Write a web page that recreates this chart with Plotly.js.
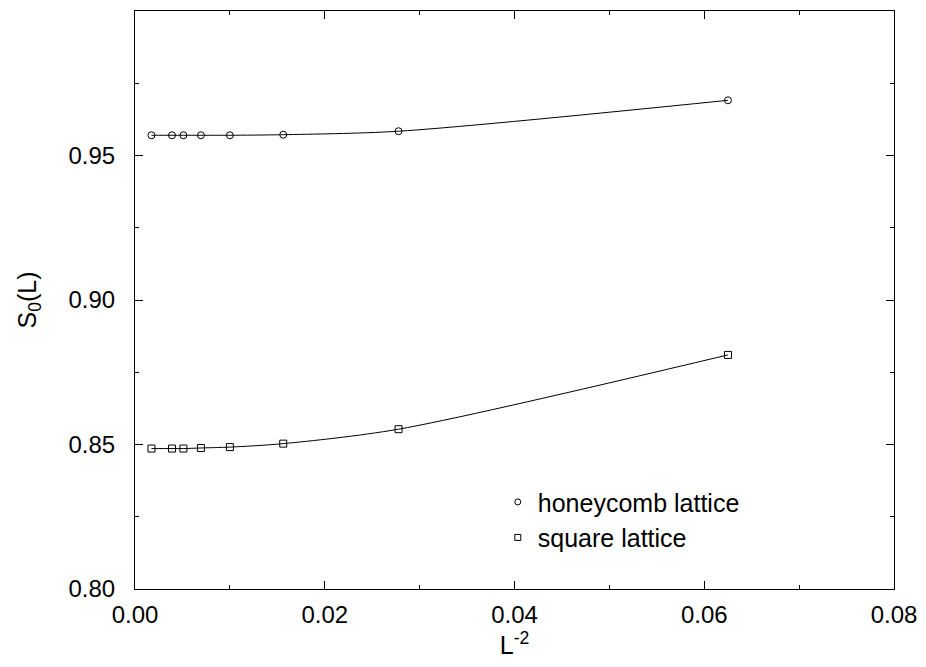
<!DOCTYPE html>
<html>
<head>
<meta charset="utf-8">
<script src="https://cdn.plot.ly/plotly-3.0.1.min.js"></script>
<style>html,body{margin:0;padding:0;background:#fff;}#chart{width:926px;height:667px;}</style>
</head>
<body>
<div id="chart"></div>
<script>
// L^-2 values for L = 24, 16, 14, 12, 10, 8, 6, 4
const xValues = [1/576, 1/256, 1/196, 1/144, 1/100, 1/64, 1/36, 1/16];
const honeycomb = [0.9570, 0.9570, 0.9570, 0.9570, 0.9570, 0.9572, 0.9584, 0.9691];
const square = [0.8486, 0.8486, 0.8486, 0.8488, 0.8491, 0.8503, 0.8553, 0.8810];
const seriesNames = ["honeycomb lattice", "square lattice"];
const xTickVals = [0, 0.02, 0.04, 0.06, 0.08];
const yTickVals = [0.80, 0.85, 0.90, 0.95];

const FONT = "Liberation Sans, Arial, sans-serif";
const lineStyle = {color: "#000", width: 1, shape: "spline", smoothing: 0.8};

const traces = [
  {x: xValues, y: honeycomb, mode: "lines+markers", line: lineStyle, showlegend: false,
   marker: {symbol: "circle-open", size: 7, color: "#000", line: {width: 1, color: "#000"}}},
  {x: xValues, y: square, mode: "lines+markers", line: lineStyle, showlegend: false,
   marker: {symbol: "square-open", size: 7, color: "#000", line: {width: 1, color: "#000"}}},
  {x: [-1], y: [0], mode: "markers", name: seriesNames[0], legendgroup: "a",
   marker: {symbol: "circle-open", size: 6, color: "#000", line: {width: 1, color: "#000"}}},
  {x: [-1], y: [0], mode: "markers", name: seriesNames[1], legendgroup: "b",
   marker: {symbol: "square-open", size: 6, color: "#000", line: {width: 1, color: "#000"}}}
];

const axisCommon = {
  showgrid: false, zeroline: false, showline: true, linecolor: "#000", linewidth: 1,
  mirror: "ticks", ticks: "inside", ticklen: 8, tickwidth: 1, tickcolor: "#000",
  tickfont: {family: FONT, size: 24, color: "#000"}
};

const layout = {
  width: 926, height: 667,
  margin: {l: 135, r: 32, t: 11, b: 78},
  paper_bgcolor: "#fff", plot_bgcolor: "#fff",
  font: {family: FONT, color: "#000"},
  xaxis: Object.assign({}, axisCommon, {
    range: [0, 0.08], tickmode: "array", tickvals: xTickVals, tickformat: ".2f",
    ticklabelstandoff: 4,
    minor: {dtick: 0.01, tick0: 0, ticks: "inside", ticklen: 4, tickcolor: "#000", showgrid: false},
    title: {text: "L<sup>-2</sup>", font: {family: FONT, size: 25, color: "#000"}, standoff: 0}
  }),
  yaxis: Object.assign({}, axisCommon, {
    range: [0.80, 1.00], tickmode: "array", tickvals: yTickVals, tickformat: ".2f",
    ticklabelstandoff: 14,
    minor: {dtick: 0.025, tick0: 0.8, ticks: "inside", ticklen: 4, tickcolor: "#000", showgrid: false},
    title: {text: "S<sub>0</sub>(L)", font: {family: FONT, size: 25, color: "#000"}, standoff: 24}
  }),
  legend: {
    x: 0.478, y: 0.19, xanchor: "left", yanchor: "top",
    bgcolor: "rgba(0,0,0,0)", borderwidth: 0,
    font: {family: FONT, size: 25, color: "#000"},
    traceorder: "grouped", tracegroupgap: 0, itemwidth: 30
  },
  showlegend: true
};

Plotly.newPlot("chart", traces, layout, {displayModeBar: false, staticPlot: true});
</script>
</body>
</html>
